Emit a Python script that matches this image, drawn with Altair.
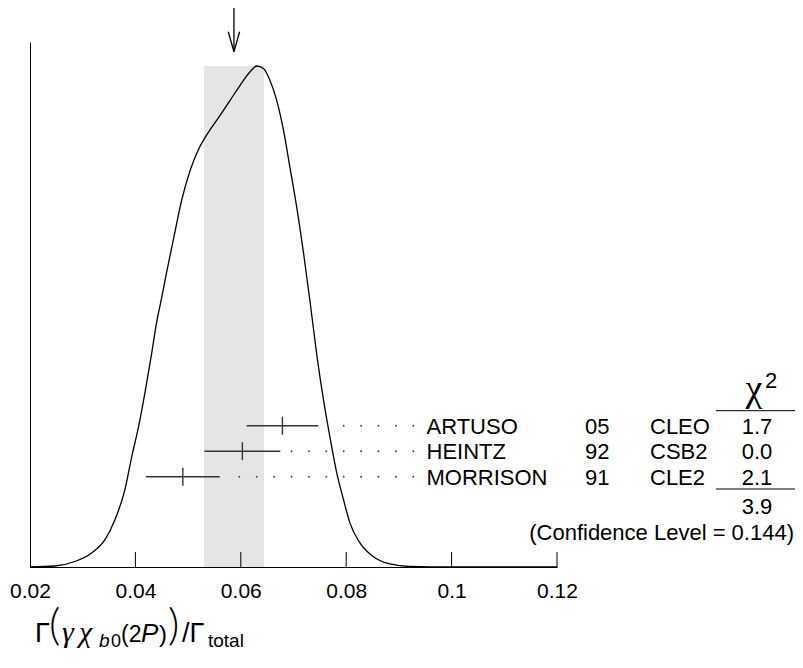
import altair as alt
import pandas as pd

# ---------------- data ----------------
authors = ["ARTUSO", "HEINTZ", "MORRISON"]
years = ["05", "92", "91"]
experiments = ["CLEO", "CSB2", "CLE2"]
values = [0.0679, 0.0603, 0.0490]
errors = [0.0068, 0.0072, 0.0070]
chi2_values = ["1.7", "0.0", "2.1"]
chi2_total = "3.9"
confidence_text = "(Confidence Level = 0.144)"

avg_value = 0.0587
avg_error = 0.0057

tick_values = [0.02, 0.04, 0.06, 0.08, 0.10, 0.12]

# ideogram curve (normalised to peak = 1)
curve_x = [0.0200, 0.0247, 0.0285, 0.0317, 0.0342, 0.0361, 0.0380, 0.0393, 0.0406,
           0.0418, 0.0431, 0.0440, 0.0449, 0.0459, 0.0472, 0.0488, 0.0504, 0.0519,
           0.0535, 0.0561, 0.0580, 0.0599, 0.0618, 0.0630, 0.0643, 0.0655, 0.0668,
           0.0681, 0.0693, 0.0706, 0.0719, 0.0731, 0.0744, 0.0757, 0.0769, 0.0782,
           0.0795, 0.0807, 0.0826, 0.0851, 0.0883, 0.0921, 0.1000, 0.1200]
curve_y = [0.000, 0.002, 0.011, 0.028, 0.054, 0.094, 0.154, 0.220, 0.280,
           0.347, 0.427, 0.487, 0.533, 0.587, 0.653, 0.733, 0.792, 0.832,
           0.862, 0.902, 0.932, 0.962, 0.989, 1.000, 0.995, 0.972, 0.932,
           0.872, 0.799, 0.719, 0.627, 0.533, 0.425, 0.333, 0.260, 0.188,
           0.134, 0.088, 0.048, 0.021, 0.006, 0.001, 0.000, 0.000]

# ---------------- layout (page pixels) ----------------
X_PX0, X_PX1 = 30, 557
BASE_PX, TOP_PX, PEAK_PX = 567, 42, 66
W = X_PX1 - X_PX0
H = BASE_PX - TOP_PX
XMIN, XMAX = 0.02, 0.12
YMAX = H / (BASE_PX - PEAK_PX)
RIGHT_PX = 794


def xd(px):
    return XMIN + (px - X_PX0) / W * (XMAX - XMIN)


def yd(py):
    return (BASE_PX - py) / (BASE_PX - PEAK_PX)


XS = alt.Scale(domain=[XMIN, XMAX], nice=False, zero=False)
YS = alt.Scale(domain=[0, YMAX], nice=False, zero=False)
XAX = alt.Axis(values=tick_values, format=".2~f", title=None, ticks=False, tickSize=0,
               grid=False, domainColor="black", domainWidth=1, labelFontSize=21,
               labelColor="black", labelFont="Liberation Sans", labelPadding=13,
               labelFlush=False, labelOverlap=False)
YAX = alt.Axis(labels=False, ticks=False, tickSize=0, title=None, grid=False,
               domainColor="black", domainWidth=1)


def XE(f):
    return alt.X(f"{f}:Q", scale=XS, axis=XAX)


def YE(f):
    return alt.Y(f"{f}:Q", scale=YS, axis=YAX)


ROW0_PX, ROW_STEP = 425.7, 25.5
DOT_END_PX, DOT_STEP = 413.3, 17.4
LABEL_PX, YEAR_PX, EXPT_PX, CHI_PX = 426.5, 585, 650, 757
FS = 22

rows = []
dots = []
for i, a in enumerate(authors):
    ry = ROW0_PX + i * ROW_STEP
    lo, hi = values[i] - errors[i], values[i] + errors[i]
    rows.append(dict(author=a, year=years[i], expt=experiments[i], chi=chi2_values[i],
                     val=values[i], lo=lo, hi=hi, y=yd(ry), ytop=yd(ry - 9), ybot=yd(ry + 9),
                     ytext=yd(ry + 8), xl=xd(LABEL_PX), xy=xd(YEAR_PX), xe=xd(EXPT_PX),
                     xc=xd(CHI_PX)))
    hi_px = X_PX0 + (hi - XMIN) / (XMAX - XMIN) * W
    px = DOT_END_PX
    while px > hi_px + 10:
        dots.append(dict(x=xd(px), y=yd(ry)))
        px -= DOT_STEP
rows = pd.DataFrame(rows)
dots = pd.DataFrame(dots)

band = alt.Chart(pd.DataFrame([dict(x=avg_value - avg_error, x2=avg_value + avg_error,
                                    y=0.0, y2=1.0)])).mark_rect(color="#e5e5e5").encode(
    x=XE("x"), x2="x2", y=YE("y"), y2="y2")

axis_ticks = alt.Chart(pd.DataFrame(dict(x=tick_values[1:], y=0.0, y2=yd(BASE_PX - 15)))).mark_rule(
    color="black", strokeWidth=1).encode(x=XE("x"), y=YE("y"), y2="y2")

curve = alt.Chart(pd.DataFrame(dict(x=curve_x, y=curve_y))).mark_line(
    color="black", strokeWidth=1.3, interpolate="monotone").encode(x=XE("x"), y=YE("y"))

ebar = alt.Chart(rows).mark_rule(color="#333333", strokeWidth=1.4).encode(
    x=XE("lo"), x2="hi", y=YE("y"))
etick = alt.Chart(rows).mark_rule(color="#333333", strokeWidth=1.4).encode(
    x=XE("val"), y=YE("ytop"), y2="ybot")
dotl = alt.Chart(dots).mark_circle(color="#444444", size=3.5, opacity=1).encode(
    x=XE("x"), y=YE("y"))


def col_text(field, xfield, align="left"):
    return alt.Chart(rows).mark_text(align=align, baseline="alphabetic", fontSize=FS,
                                     font="Liberation Sans", color="black").encode(
        x=XE(xfield), y=YE("ytext"), text=f"{field}:N")


lab_author = col_text("author", "xl")
lab_year = col_text("year", "xy")
lab_expt = col_text("expt", "xe")
lab_chi = col_text("chi", "xc", "center")


def texts(items, font="Liberation Sans", style="normal", align="left", weight="normal"):
    df = pd.DataFrame([dict(t=t, x=xd(px), y=yd(py), fs=fs) for t, px, py, fs in items])
    return alt.Chart(df).mark_text(align=align, baseline="alphabetic", font=font,
                                   fontStyle=style, fontWeight=weight, color="black").encode(
        x=XE("x"), y=YE("y"), text="t:N", size=alt.Size("fs:Q", scale=None, legend=None))


sum_texts = texts([(chi2_total, CHI_PX, 514, FS)], align="center")
conf = texts([(confidence_text, RIGHT_PX, 540, FS)], align="right")
chi_head = texts([("χ", 754, 401, 38)], font="Liberation Serif", align="center")
chi_sup = texts([("2", 765, 388, 22)])

TB = 642  # title baseline
title_sans = texts([("Γ", 35, TB, 27), ("0", 111, TB + 5, 18),
                    ("(2", 121, TB, 23), (")", 159, TB, 24),
                    ("/Γ", 182, TB, 27), ("total", 208, TB + 5, 19)])
title_paren = texts([("(", 49, TB - 2, 44), (")", 168, TB - 2, 44)], font="Lato", weight=300)
title_serif_it = texts([("γ", 62, TB, 30), ("χ", 79, TB, 30)],
                       font="Liberation Serif", style="italic")
title_sans_it = texts([("b", 99, TB + 5, 19), ("P", 141, TB, 26)], style="italic")

lines = alt.Chart(pd.DataFrame(dict(x=[xd(716), xd(716)], x2=[xd(RIGHT_PX + 1), xd(RIGHT_PX + 1)],
                                    y=[yd(410.7), yd(489)]))).mark_rule(
    color="black", strokeWidth=1).encode(x=XE("x"), x2="x2", y=YE("y"))

ah = 0.00108
arrow = alt.Chart(pd.DataFrame(dict(
    x=[avg_value, avg_value - ah, avg_value + ah],
    x2=[avg_value, avg_value, avg_value],
    y=[yd(5), yd(31.7), yd(31.7)],
    y2=[yd(51.7), yd(51.7), yd(51.7)]))).mark_rule(color="black", strokeWidth=1.3).encode(
    x=XE("x"), x2="x2", y=YE("y"), y2="y2")

chart = alt.layer(
    band, axis_ticks, curve, ebar, etick, dotl,
    lab_author, lab_year, lab_expt, lab_chi, sum_texts, conf, chi_head, chi_sup,
    title_sans, title_paren, title_serif_it, title_sans_it, lines, arrow
).properties(
    width=W, height=H,
    autosize=alt.AutoSizeParams(type="none"),
    padding={"left": 22, "top": 34, "right": 238, "bottom": 86},
).configure_view(stroke=None, strokeWidth=0)

chart.save("out.html", embed_options={"renderer": "svg", "actions": False})
